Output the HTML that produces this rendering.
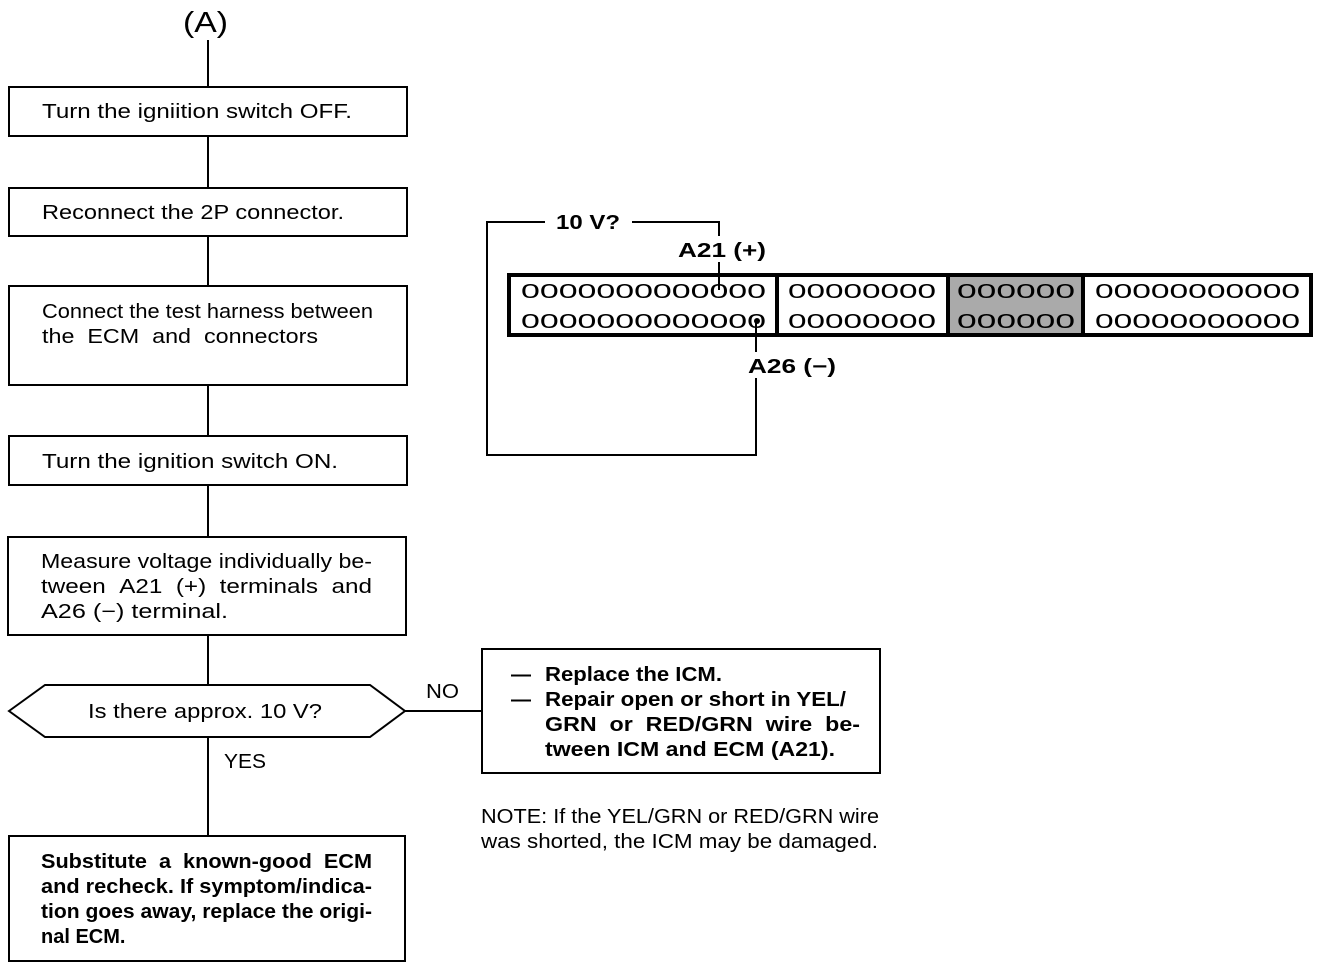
<!DOCTYPE html>
<html><head><meta charset="utf-8"><style>
body{margin:0;background:#fff}
svg{display:block}
text{font-family:"Liberation Sans",Arial,sans-serif;font-size:20px;fill:#000}
.b{font-weight:bold}
</style></head><body>
<svg width="1328" height="968" viewBox="0 0 1328 968" xmlns="http://www.w3.org/2000/svg">
<g stroke="#000" stroke-width="2" fill="none">
<line x1="208" y1="40" x2="208" y2="836"/>
<rect x="9" y="87" width="398" height="49" fill="#fff"/>
<rect x="9" y="188" width="398" height="48" fill="#fff"/>
<rect x="9" y="286" width="398" height="99" fill="#fff"/>
<rect x="9" y="436" width="398" height="49" fill="#fff"/>
<rect x="8" y="537" width="398" height="98" fill="#fff"/>
<polygon points="9,711 45,685 370,685 405,711 370,737 45,737" fill="#fff"/>
<rect x="9" y="836" width="396" height="125" fill="#fff"/>
<line x1="405" y1="711" x2="482" y2="711"/>
<rect x="482" y="649" width="398" height="124" fill="#fff"/>
<polyline points="545,222 487,222 487,455 756,455 756,320"/>
<polyline points="632,222 719,222 719,290"/>
</g>
<rect x="949" y="276" width="134" height="58" fill="#aaa"/>
<g stroke="#000" stroke-width="4" fill="none">
<rect x="509" y="275" width="802" height="60"/>
<line x1="777" y1="275" x2="777" y2="335"/>
<line x1="948" y1="275" x2="948" y2="335"/>
<line x1="1083" y1="275" x2="1083" y2="335"/>
</g>
<text x="521" y="298" textLength="245" lengthAdjust="spacingAndGlyphs">0000000000000</text>
<text x="521" y="328" textLength="245" lengthAdjust="spacingAndGlyphs">0000000000000</text>
<text x="788" y="298" textLength="148" lengthAdjust="spacingAndGlyphs">00000000</text>
<text x="788" y="328" textLength="148" lengthAdjust="spacingAndGlyphs">00000000</text>
<text x="957" y="298" textLength="118" lengthAdjust="spacingAndGlyphs">000000</text>
<text x="957" y="328" textLength="118" lengthAdjust="spacingAndGlyphs">000000</text>
<text x="1095" y="298" textLength="205" lengthAdjust="spacingAndGlyphs">00000000000</text>
<text x="1095" y="328" textLength="205" lengthAdjust="spacingAndGlyphs">00000000000</text>
<circle cx="757" cy="321" r="3" fill="#000"/>
<rect x="674" y="236" width="96" height="26" fill="#fff"/>
<rect x="744" y="352" width="96" height="26" fill="#fff"/>
<text class="b" x="556" y="229" textLength="64" lengthAdjust="spacingAndGlyphs">10 V?</text>
<text class="b" x="678" y="257" textLength="88" lengthAdjust="spacingAndGlyphs">A21 (+)</text>
<text class="b" x="748" y="373" textLength="88" lengthAdjust="spacingAndGlyphs">A26 (−)</text>

<text x="183" y="32" style="font-size:29px" textLength="45" lengthAdjust="spacingAndGlyphs">(A)</text>
<text x="42" y="118" textLength="310" lengthAdjust="spacingAndGlyphs">Turn the igniition switch OFF.</text>
<text x="42" y="219" textLength="302" lengthAdjust="spacingAndGlyphs">Reconnect the 2P connector.</text>
<text x="42" y="318" textLength="331" lengthAdjust="spacingAndGlyphs">Connect the test harness between</text>
<text x="42" y="343" textLength="276" lengthAdjust="spacingAndGlyphs">the&#160;&#160;ECM&#160;&#160;and&#160;&#160;connectors</text>
<text x="42" y="468" textLength="296" lengthAdjust="spacingAndGlyphs">Turn the ignition switch ON.</text>
<text x="41" y="568" textLength="331" lengthAdjust="spacingAndGlyphs">Measure voltage individually be-</text>
<text x="41" y="593" textLength="331" lengthAdjust="spacingAndGlyphs">tween&#160;&#160;A21&#160;&#160;(+)&#160;&#160;terminals&#160;&#160;and</text>
<text x="41" y="618" textLength="187" lengthAdjust="spacingAndGlyphs">A26 (−) terminal.</text>
<text x="88" y="718" textLength="234" lengthAdjust="spacingAndGlyphs">Is there approx. 10 V?</text>
<text x="426" y="698" textLength="33" lengthAdjust="spacingAndGlyphs">NO</text>
<text x="224" y="768" textLength="42" lengthAdjust="spacingAndGlyphs">YES</text>
<text class="b" x="511" y="681">—</text>
<text class="b" x="511" y="706">—</text>
<text class="b" x="545" y="681" textLength="177" lengthAdjust="spacingAndGlyphs">Replace the ICM.</text>
<text class="b" x="545" y="706" textLength="301" lengthAdjust="spacingAndGlyphs">Repair open or short in YEL/</text>
<text class="b" x="545" y="731" textLength="315" lengthAdjust="spacingAndGlyphs">GRN&#160;&#160;or&#160;&#160;RED/GRN&#160;&#160;wire&#160;&#160;be-</text>
<text class="b" x="545" y="756" textLength="290" lengthAdjust="spacingAndGlyphs">tween ICM and ECM (A21).</text>
<text x="481" y="823" textLength="398" lengthAdjust="spacingAndGlyphs">NOTE: If the YEL/GRN or RED/GRN wire</text>
<text x="481" y="848" textLength="397" lengthAdjust="spacingAndGlyphs">was shorted, the ICM may be damaged.</text>
<text class="b" x="41" y="868" textLength="331" lengthAdjust="spacingAndGlyphs">Substitute&#160;&#160;a&#160;&#160;known-good&#160;&#160;ECM</text>
<text class="b" x="41" y="893" textLength="331" lengthAdjust="spacingAndGlyphs">and recheck. If symptom/indica-</text>
<text class="b" x="41" y="918" textLength="331" lengthAdjust="spacingAndGlyphs">tion goes away, replace the origi-</text>
<text class="b" x="41" y="943">nal ECM.</text>
</svg>
</body></html>
